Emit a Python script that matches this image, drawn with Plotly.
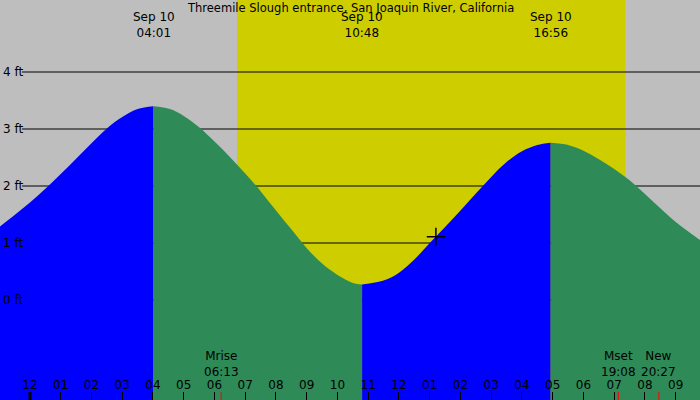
import plotly.graph_objects as go

# tide heights (feet), local time, Sep 9 23:00 .. Sep 10 21:48
times = ["2026-09-09 23:00", "2026-09-09 23:30", "2026-09-10 00:00", "2026-09-10 00:30",
         "2026-09-10 01:00", "2026-09-10 01:30", "2026-09-10 02:00", "2026-09-10 02:30",
         "2026-09-10 03:00", "2026-09-10 03:30", "2026-09-10 04:01", "2026-09-10 04:33",
         "2026-09-10 05:00", "2026-09-10 05:30", "2026-09-10 06:00", "2026-09-10 06:30",
         "2026-09-10 07:00", "2026-09-10 07:30", "2026-09-10 08:00", "2026-09-10 08:30",
         "2026-09-10 09:00", "2026-09-10 09:30", "2026-09-10 10:00", "2026-09-10 10:30",
         "2026-09-10 10:48", "2026-09-10 11:30", "2026-09-10 12:00", "2026-09-10 12:30",
         "2026-09-10 13:00", "2026-09-10 13:30", "2026-09-10 14:00", "2026-09-10 14:30",
         "2026-09-10 15:00", "2026-09-10 15:30", "2026-09-10 16:00", "2026-09-10 16:30",
         "2026-09-10 16:56", "2026-09-10 17:30", "2026-09-10 18:00", "2026-09-10 18:30",
         "2026-09-10 19:00", "2026-09-10 19:30", "2026-09-10 20:00", "2026-09-10 20:30",
         "2026-09-10 21:00", "2026-09-10 21:48"]
heights = [1.28, 1.49, 1.71, 1.95, 2.21, 2.48, 2.75, 3.01,
           3.21, 3.35, 3.40, 3.35, 3.23, 3.03, 2.78, 2.51,
           2.22, 1.91, 1.57, 1.24, 0.91, 0.64, 0.44, 0.30,
           0.27, 0.34, 0.48, 0.71, 1.00, 1.28, 1.57, 1.87,
           2.16, 2.42, 2.61, 2.72, 2.76, 2.72, 2.62, 2.47,
           2.30, 2.10, 1.86, 1.61, 1.37, 1.05]

# high / low tides
extreme_times = ["2026-09-10 04:01", "2026-09-10 10:48", "2026-09-10 16:56"]
extreme_labels = ["Sep 10<br>04:01", "Sep 10<br>10:48", "Sep 10<br>16:56"]

sunrise = "2026-09-10 06:44"
sunset = "2026-09-10 19:22"

moon_times = ["2026-09-10 06:13", "2026-09-10 19:08", "2026-09-10 20:27"]
moon_labels = ["Mrise<br>06:13", "Mset<br>19:08", "New<br>20:27"]

midnight = "2026-09-10 00:00"
now_time = "2026-09-10 13:12"
now_height = 1.11

grid_ft = [0, 1, 2, 3, 4]
grid_labels = [f"{g} ft" for g in grid_ft]

title = "Threemile Slough entrance, San Joaquin River, California"

SKY = "#bebebe"
DAY = "#cdcd00"
RISING = "#0000ff"
FALLING = "#2e8b57"
FLOOR = -3
FONT = "DejaVu Sans"
H = 400


def py(pixel_y):
    # pixel row from the top -> paper coordinate
    return 1 - pixel_y / H


fig = go.Figure()

# split the curve at each high/low so rising and falling get their own colour
cuts = [0] + [times.index(t) for t in extreme_times] + [len(times) - 1]
for k in range(len(cuts) - 1):
    a, b = cuts[k], cuts[k + 1]
    seg_x = times[a:b + 1]
    seg_y = heights[a:b + 1]
    colour = RISING if seg_y[-1] > seg_y[0] else FALLING
    # invisible floor, then the curve filled down to it
    fig.add_trace(go.Scatter(x=[seg_x[0], seg_x[-1]], y=[FLOOR, FLOOR], mode="lines",
                             line=dict(width=0), hoverinfo="skip"))
    fig.add_trace(go.Scatter(x=seg_x, y=seg_y, mode="lines",
                             line=dict(width=0, shape="spline", smoothing=1),
                             fill="tonexty", fillcolor=colour, hoverinfo="skip"))

fig.add_trace(go.Scatter(
    x=[now_time], y=[now_height], mode="markers",
    marker=dict(symbol="cross-thin", size=13, line=dict(width=1.5, color="black"))))

shapes = [dict(type="rect", xref="x", yref="paper", x0=sunrise, x1=sunset, y0=0, y1=1,
               fillcolor=DAY, line_width=0, layer="below")]
for g in grid_ft:
    shapes.append(dict(type="line", xref="paper", yref="y", x0=22 / 700, x1=1, y0=g, y1=g,
                       line=dict(color="black", width=1), layer="below"))
shapes.append(dict(type="line", xref="x", yref="paper", x0=midnight, x1=midnight, y0=0, y1=0.02,
                   line=dict(color="black", width=3)))
for t in moon_times:
    shapes.append(dict(type="line", xref="x", yref="paper", x0=t, x1=t, y0=0, y1=0.02,
                       line=dict(color="red", width=1)))

annotations = [dict(text=title, xref="paper", yref="paper", x=0.5, y=py(8),
                    yanchor="middle", showarrow=False, font=dict(size=11.5))]
for t, lab in zip(extreme_times, extreme_labels):
    annotations.append(dict(text=lab, xref="x", yref="paper", x=t, y=py(25),
                            yanchor="middle", showarrow=False, borderpad=0))
for t, lab in zip(moon_times, moon_labels):
    annotations.append(dict(text=lab, xref="x", yref="paper", x=t, y=py(364),
                            yanchor="middle", showarrow=False, borderpad=0))

fig.update_layout(
    width=700, height=H, margin=dict(l=0, r=0, t=0, b=0),
    paper_bgcolor=SKY, plot_bgcolor=SKY, showlegend=False,
    font=dict(family=FONT, size=12, color="black"),
    shapes=shapes, annotations=annotations,
    xaxis=dict(range=["2026-09-09 23:01:30", "2026-09-10 21:47:20"],
               tick0="2026-09-09 23:00", dtick=3600000, tickformat="%I",
               ticks="inside", ticklen=8, tickcolor="black", tickwidth=1,
               ticklabelposition="inside", tickfont=dict(color="black", size=12),
               showgrid=False, zeroline=False),
    yaxis=dict(range=[-100 / 57, 300 / 57], tickmode="array", tickvals=grid_ft,
               ticktext=grid_labels, tickfont=dict(color="black", size=12),
               ticklabelposition="inside", ticks="", showgrid=False, zeroline=False),
)

fig.write_html("out.html", config={"displayModeBar": False},
               post_script="document.body.style.margin = '0';")
